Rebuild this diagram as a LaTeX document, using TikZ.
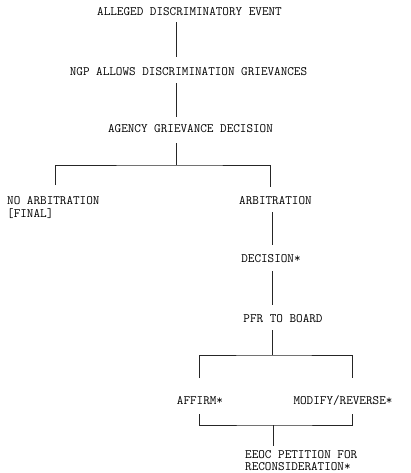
\documentclass[tikz,border=0pt]{standalone}
\usepackage{fontspec}
\usetikzlibrary{calc}
\begin{document}
\begin{tikzpicture}[x=1pt,y=-1pt,
  label/.style={inner sep=0pt, text height=7.4pt, text depth=0pt,
    font=\ttfamily\fontsize{12.8}{11.5}\selectfont},
  multi/.style={inner sep=0pt, anchor=base west,
    font=\ttfamily\fontsize{12.8}{11.5}\selectfont},
  conn/.style={draw=black!85, line width=0.7pt}]
\useasboundingbox (0,0) rectangle (410,473);

% stage labels
\node[label] (a) at (189.5,12) {ALLEGED DISCRIMINATORY EVENT};
\node[label] (b) at (188.5,72) {NGP ALLOWS DISCRIMINATION GRIEVANCES};
\node[label] (c) at (190.5,129) {AGENCY GRIEVANCE DECISION};
\node[multi] (d) at (7,204.7) {\begin{tabular}[t]{@{}l@{}}NO ARBITRATION\\ {[FINAL]}\end{tabular}};
\node[label] (e) at (275.5,201) {ARBITRATION};
\node[label] (f) at (271,259) {DECISION*};
\node[label] (g) at (283,319) {PFR TO BOARD};
\node[label] (h) at (200,401) {AFFIRM*};
\node[label] (i) at (343,401) {MODIFY/REVERSE*};
\node[multi] (k) at (245,458.7) {\begin{tabular}[t]{@{}l@{}}EEOC PETITION FOR\\ RECONSIDERATION*\end{tabular}};

% columns and junctions
\coordinate (colA) at (176,0);
\coordinate (colB) at (272,0);
\coordinate (j1) at (176,165);
\coordinate (dl) at (55,185);
\coordinate (er) at (270,187);
\coordinate (j2) at (272,355);
\coordinate (hl) at (199,378);
\coordinate (ir) at (352,378);
\coordinate (hl2) at (199,414);
\coordinate (ir2) at (352,414);
\coordinate (j3) at (273,425);
\coordinate (kt) at (273,446);

% main trunk
\draw[conn, shorten <=6.5pt, shorten >=11.5pt] (a.south -| colA) -- (b.north -| colA);
\draw[conn, shorten <=7.5pt, shorten >=8.5pt] (b.south -| colA) -- (c.north -| colA);
\draw[conn, shorten <=10.5pt] (c.south -| colA) -- (j1);

% arbitration branch
\draw[conn] (dl) |- (j1) -| (er);

% arbitration chain
\draw[conn, shorten <=7.5pt, shorten >=10.5pt] (e.south -| colB) -- (f.north -| colB);
\draw[conn, shorten <=8.5pt, shorten >=10.5pt] (f.south -| colB) -- (g.north -| colB);
\draw[conn, shorten <=7.5pt] (g.south -| colB) -- (j2);

% board outcomes
\draw[conn] (hl) |- (j2) -| (ir);
\draw[conn] (hl2) |- (j3) -| (ir2);
\draw[conn] (j3) -- (kt);
\end{tikzpicture}
\end{document}
